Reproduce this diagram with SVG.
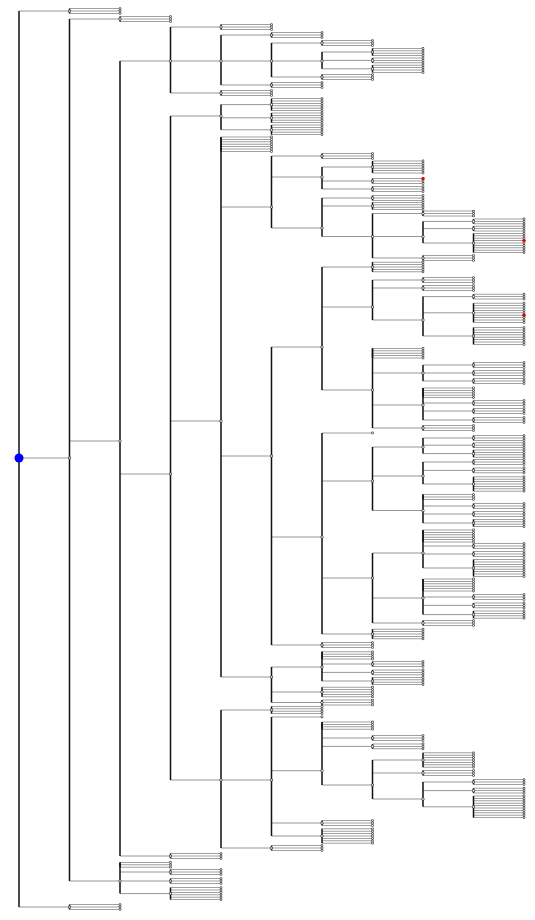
<svg xmlns="http://www.w3.org/2000/svg" xmlns:xlink="http://www.w3.org/1999/xlink" width="535" height="920" viewBox="0 0 535 920">
<style>
.h{fill:none;stroke:#969696;stroke-width:1}
.v{fill:none;stroke:#111;stroke-width:1.5}
.b{fill:none;stroke:#a0a0a0;stroke-width:50.5;stroke-dasharray:1 1.4}
.d{fill:none;stroke:#4a4a4a;stroke-width:2.8;stroke-dasharray:0 2.4;stroke-linecap:round}
.e{fill:none;stroke:#fff;stroke-width:1.3;stroke-dasharray:0 2.4;stroke-linecap:round}
.nd{fill:none;stroke:#404040;stroke-width:3.2;stroke-linecap:round}
.ne{fill:none;stroke:#fff;stroke-width:1.7;stroke-linecap:round}
.red{fill:#e00000}
</style>
<defs>
<g id="f1"><path class="b" d="M25.25-.5v1"/><path class="d" d="M50.5 0v.01"/><path class="e" d="M50.5 0v.01"/></g>
<g id="f3"><path class="b" d="M25.25-.5v5.8"/><path class="v" d="M0 0v4.8"/><path class="d" d="M50.5 0v4.81"/><path class="e" d="M50.5 0v4.81"/></g>
<g id="f4"><path class="b" d="M25.25-.5v8.2"/><path class="v" d="M0 0v7.2"/><path class="d" d="M50.5 0v7.21"/><path class="e" d="M50.5 0v7.21"/></g>
<g id="f5"><path class="b" d="M25.25-.5v10.6"/><path class="v" d="M0 0v9.6"/><path class="d" d="M50.5 0v9.61"/><path class="e" d="M50.5 0v9.61"/></g>
<g id="f6"><path class="b" d="M25.25-.5v13"/><path class="v" d="M0 0v12"/><path class="d" d="M50.5 0v12.01"/><path class="e" d="M50.5 0v12.01"/></g>
<g id="f7"><path class="b" d="M25.25-.5v15.4"/><path class="v" d="M0 0v14.4"/><path class="d" d="M50.5 0v14.41"/><path class="e" d="M50.5 0v14.41"/></g>
<g id="f8"><path class="b" d="M25.25-.5v17.8"/><path class="v" d="M0 0v16.8"/><path class="d" d="M50.5 0v16.81"/><path class="e" d="M50.5 0v16.81"/></g>
<g id="f9"><path class="b" d="M25.25-.5v20.2"/><path class="v" d="M0 0v19.2"/><path class="d" d="M50.5 0v19.21"/><path class="e" d="M50.5 0v19.21"/></g>
<g id="f10"><path class="b" d="M25.25-.5v22.6"/><path class="v" d="M0 0v21.6"/><path class="d" d="M50.5 0v21.61"/><path class="e" d="M50.5 0v21.61"/></g>
<path id="ND" d="M69.5 11h.01M69.5 458h.01M69.5 907h.01M120 19h.01M120 441h.01M120 881h.01M170.5 61h.01M170.5 474h.01M170.5 856h.01M221 27h.01M221 61h.01M221 93h.01M271.5 35h.01M271.5 61h.01M271.5 85h.01M322 43h.01M322 61h.01M322 77h.01M372.5 52h.01M372.5 60.4h.01M372.5 68.8h.01M221 116h.01M221 421h.01M221 780h.01M271.5 104.6h.01M271.5 117.8h.01M271.5 129.8h.01M271.5 207h.01M271.5 456h.01M271.5 677h.01M322 156h.01M322 177h.01M322 228h.01M372.5 167h.01M372.5 181h.01M372.5 189h.01M372.5 198h.01M372.5 206h.01M372.5 236.5h.01M423 213.5h.01M423 236.5h.01M423 258h.01M473.5 221.4h.01M473.5 228.6h.01M473.5 243h.01M322 347h.01M322 537h.01M322 645h.01M372.5 267h.01M372.5 307h.01M372.5 390h.01M423 280h.01M423 288h.01M423 320h.01M473.5 296.6h.01M473.5 312.8h.01M473.5 336h.01M423 373h.01M423 405h.01M423 428h.01M473.5 365h.01M473.5 373h.01M473.5 381h.01M473.5 403h.01M473.5 411h.01M473.5 420h.01M372.5 481h.01M372.5 578h.01M372.5 634h.01M423 447h.01M423 476h.01M423 510.5h.01M473.5 438h.01M473.5 445.2h.01M473.5 453.6h.01M473.5 462h.01M473.5 470.4h.01M473.5 484h.01M473.5 506h.01M473.5 514h.01M473.5 523h.01M423 553h.01M423 598h.01M423 623h.01M473.5 546h.01M473.5 554h.01M473.5 568h.01M473.5 597h.01M473.5 605.4h.01M473.5 614.6h.01M322 667h.01M322 692h.01M322 702.5h.01M372.5 664h.01M372.5 672.4h.01M372.5 681h.01M271.5 710h.01M271.5 780h.01M271.5 848h.01M322 770.7h.01M322 823h.01M322 836h.01M372.5 738h.01M372.5 746.4h.01M372.5 785h.01M423 760h.01M423 773h.01M423 799h.01M473.5 782h.01M473.5 790.6h.01M473.5 806.8h.01M170.5 872h.01M170.5 881h.01M170.5 893.6h.01"/>
</defs>
<rect width="535" height="920" fill="#fff"/>
<g id="connectors">
<path class="h" d="M19 11H69.5M19 458H69.5M19 907H69.5M69.5 19H120M69.5 441H120M69.5 881H120M120 61H170.5M120 474H170.5M120 856H170.5M170.5 27H221M170.5 61H221M170.5 93H221M221 35H271.5M221 61H271.5M221 85H271.5M271.5 43H322M271.5 61H322M271.5 77H322M322 52H372.5M322 60.4H372.5M322 68.8H372.5M170.5 116H221M170.5 421H221M170.5 780H221M221 104.6H271.5M221 117.8H271.5M221 129.8H271.5M221 207H271.5M221 456H271.5M221 677H271.5M271.5 156H322M271.5 177H322M271.5 228H322M322 167H372.5M322 181H372.5M322 189H372.5M322 198H372.5M322 206H372.5M322 236.5H372.5M372.5 213.5H423M372.5 236.5H423M372.5 258H423M423 221.4H473.5M423 228.6H473.5M423 243H473.5M271.5 347H322M271.5 537H322M271.5 645H322M322 267H372.5M322 307H372.5M322 390H372.5M372.5 280H423M372.5 288H423M372.5 320H423M423 296.6H473.5M423 312.8H473.5M423 336H473.5M372.5 373H423M372.5 405H423M372.5 428H423M423 365H473.5M423 373H473.5M423 381H473.5M423 403H473.5M423 411H473.5M423 420H473.5M322 481H372.5M322 578H372.5M322 634H372.5M372.5 447H423M372.5 476H423M372.5 510.5H423M423 438H473.5M423 445.2H473.5M423 453.6H473.5M423 462H473.5M423 470.4H473.5M423 484H473.5M423 506H473.5M423 514H473.5M423 523H473.5M372.5 553H423M372.5 598H423M372.5 623H423M423 546H473.5M423 554H473.5M423 568H473.5M423 597H473.5M423 605.4H473.5M423 614.6H473.5M271.5 667H322M271.5 692H322M271.5 702.5H322M322 664H372.5M322 672.4H372.5M322 681H372.5M221 710H271.5M221 780H271.5M221 848H271.5M271.5 770.7H322M271.5 823H322M271.5 836H322M322 738H372.5M322 746.4H372.5M322 785H372.5M372.5 760H423M372.5 773H423M372.5 799H423M423 782H473.5M423 790.6H473.5M423 806.8H473.5M120 872H170.5M120 881H170.5M120 893.6H170.5"/>
</g>
<g id="leaves">
<use href="#f3" x="69.5" y="8.6"/><use href="#f3" x="69.5" y="904.6"/><use href="#f3" x="120" y="16.6"/><use href="#f3" x="170.5" y="853.6"/>
<use href="#f3" x="221" y="24.6"/><use href="#f3" x="221" y="90.6"/><use href="#f3" x="271.5" y="32.6"/><use href="#f3" x="271.5" y="82.6"/>
<use href="#f3" x="322" y="40.6"/><use href="#f3" x="322" y="74.6"/><use href="#f4" x="372.5" y="48.4"/><use href="#f3" x="372.5" y="58"/><use href="#f4" x="372.5" y="65.2"/>
<use href="#f6" x="271.5" y="98.6"/><use href="#f5" x="271.5" y="113"/><use href="#f5" x="271.5" y="125"/>
<use href="#f7" x="221" y="137"/><use href="#f3" x="322" y="153.6"/>
<use href="#f6" x="372.5" y="161"/><use href="#f3" x="372.5" y="178.6"/><use href="#f3" x="372.5" y="186.6"/>
<use href="#f3" x="372.5" y="195.6"/><use href="#f4" x="372.5" y="202.4"/>
<use href="#f3" x="423" y="211.1"/><use href="#f3" x="423" y="255.6"/>
<use href="#f3" x="473.5" y="219"/><use href="#f3" x="473.5" y="226.2"/><use href="#f9" x="473.5" y="233.4"/>
<use href="#f3" x="322" y="642.6"/><use href="#f5" x="372.5" y="262.2"/>
<use href="#f3" x="423" y="277.6"/><use href="#f3" x="423" y="285.6"/>
<use href="#f3" x="473.5" y="294.2"/><use href="#f9" x="473.5" y="303.2"/><use href="#f8" x="473.5" y="327.6"/>
<use href="#f5" x="372.5" y="348.4"/><use href="#f3" x="423" y="425.6"/>
<use href="#f3" x="473.5" y="362.6"/><use href="#f3" x="473.5" y="370.6"/><use href="#f3" x="473.5" y="378.6"/>
<use href="#f5" x="423" y="388"/><use href="#f3" x="473.5" y="400.6"/><use href="#f3" x="473.5" y="408.6"/><use href="#f3" x="473.5" y="417.6"/>
<use href="#f1" x="322" y="433"/><use href="#f5" x="372.5" y="629.2"/>
<use href="#f3" x="473.5" y="435.6"/><use href="#f3" x="473.5" y="442.8"/><use href="#f4" x="473.5" y="450"/>
<use href="#f3" x="473.5" y="459.6"/><use href="#f3" x="473.5" y="468"/><use href="#f7" x="473.5" y="476.8"/>
<use href="#f3" x="423" y="494.6"/><use href="#f3" x="473.5" y="503.6"/><use href="#f3" x="473.5" y="511.6"/><use href="#f4" x="473.5" y="519.4"/>
<use href="#f3" x="423" y="620.6"/>
<use href="#f6" x="423" y="530"/><use href="#f3" x="473.5" y="543.6"/><use href="#f3" x="473.5" y="551.6"/><use href="#f8" x="473.5" y="559.6"/>
<use href="#f6" x="423" y="579"/><use href="#f3" x="473.5" y="594.6"/><use href="#f3" x="473.5" y="603"/><use href="#f4" x="473.5" y="611"/>
<use href="#f5" x="322" y="687.2"/><use href="#f3" x="322" y="700.1"/>
<use href="#f4" x="322" y="651.8"/><use href="#f3" x="372.5" y="661.6"/><use href="#f3" x="372.5" y="670"/><use href="#f4" x="372.5" y="677.4"/>
<use href="#f4" x="271.5" y="706.4"/><use href="#f3" x="271.5" y="845.6"/>
<use href="#f1" x="271.5" y="717"/><use href="#f3" x="322" y="820.6"/><use href="#f7" x="322" y="828.8"/>
<use href="#f4" x="322" y="722"/><use href="#f3" x="372.5" y="735.6"/><use href="#f3" x="372.5" y="744"/>
<use href="#f7" x="423" y="752.8"/><use href="#f3" x="423" y="770.6"/>
<use href="#f3" x="473.5" y="779.6"/><use href="#f3" x="473.5" y="788.2"/><use href="#f10" x="473.5" y="796"/>
<use href="#f3" x="120" y="862.4"/><use href="#f3" x="170.5" y="869.6"/><use href="#f3" x="170.5" y="878.6"/><use href="#f6" x="170.5" y="887.6"/>
</g>
<g id="branches">
<path class="v" d="M19 11V907M69.5 19V881M120 61V856M170.5 27V93M221 35V85M271.5 43V77M322 52V68.8M170.5 116V780M221 104.6V129.8M221 137V677M271.5 156V228M322 167V189M322 198V236.5M372.5 213.5V258M423 221.4V243M271.5 347V645M322 267V390M372.5 280V320M423 296.6V336M372.5 348.4V428M423 365V381M423 388V420M322 433V634M372.5 447V510.5M423 438V453.6M423 462V484M423 494.6V523M372.5 553V623M423 530V568M423 579V614.6M271.5 667V702.5M322 651.8V681M221 710V848M271.5 717V836M322 722V785M372.5 760V799M423 782V806.8M120 862.4V893.6"/>
</g>
<g id="nodes">
<use href="#ND" class="nd"/>
<use href="#ND" class="ne"/>
<circle class="red" cx="423" cy="178.6" r="1.7"/>
<circle class="red" cx="524" cy="240.6" r="1.7"/>
<circle class="red" cx="524" cy="315.2" r="1.7"/>
<circle id="root" cx="19" cy="458" r="4.5" fill="#0000ff"/>
</g>
</svg>
